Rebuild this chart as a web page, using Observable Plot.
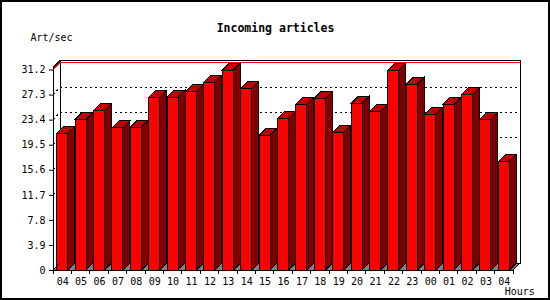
<!DOCTYPE html>
<html><head><meta charset="utf-8">
<script src="https://cdn.jsdelivr.net/npm/d3@7"></script>
<script src="https://cdn.jsdelivr.net/npm/@observablehq/plot@0.6"></script>
<style>html,body{margin:0;padding:0;background:#fff}</style>
</head><body><div id="chart"></div>
<script>
const hours = ["04","05","06","07","08","09","10","11","12","13","14","15","16","17","18","19","20","21","22","23","00","01","02","03","04"];
const articles = [21.3,23.45,24.85,22.1,22.2,26.9,26.9,27.8,29.2,31.08,28.3,20.96,23.6,25.8,26.7,21.4,25.9,24.7,31.08,28.9,24.2,25.8,27.3,23.45,16.85];
const yTicks = [0,3.9,7.8,11.7,15.6,19.5,23.4,27.3,31.2];
const title = "Incoming articles";
const yLabel = "Art/sec";
const xLabel = "Hours";

const data = articles.map((v, i) => ({i, hour: hours[i], value: v}));
const idx = data.map(d => d.i);
const DEPTH = 7;
const yMax = yTicks[yTicks.length - 1];

function background(index, scales) {
  const x = scales.x, y = scales.y;
  const g = d3.create("svg:g").attr("shape-rendering", "crispEdges");
  const [x0, x1] = x.range();
  const y0 = y(0), yTop = y(yMax) - 2;
  g.append("path")
    .attr("d", `M${x0},${y0}L${x0 + DEPTH},${y0 - DEPTH}L${x1 + DEPTH},${y0 - DEPTH}L${x1},${y0}Z`)
    .attr("fill", "#808080");
  g.append("rect")
    .attr("x", x0 + DEPTH).attr("y", yTop - DEPTH)
    .attr("width", x1 - x0).attr("height", y0 - yTop)
    .attr("fill", "none").attr("stroke", "black");
  for (const t of yTicks.slice(1)) {
    const yy = y(t);
    const isMax = t === yMax;
    g.append("path")
      .attr("d", `M${x0},${yy}L${x0 + DEPTH},${yy - DEPTH}L${x1 + DEPTH},${yy - DEPTH}`)
      .attr("fill", "none")
      .attr("stroke", isMax ? "red" : "black")
      .attr("stroke-dasharray", isMax ? null : "2,3");
  }
  return g.node();
}

function foreground(index, scales, values, dims) {
  const x = scales.x, y = scales.y;
  const g = d3.create("svg:g").attr("shape-rendering", "crispEdges");
  const [x0, x1] = x.range();
  const y0 = y(0), yTop = y(yMax) - 2;
  const bw = x.bandwidth();
  for (const d of data) {
    const xl = x(d.i), xr = xl + bw, yt = y(d.value);
    g.append("path")
      .attr("d", `M${xr},${y0}L${xr},${yt}L${xr + DEPTH},${yt - DEPTH}L${xr + DEPTH},${y0 - DEPTH}Z`)
      .attr("fill", "#800000").attr("stroke", "black");
    g.append("path")
      .attr("d", `M${xl},${yt}L${xl + DEPTH},${yt - DEPTH}L${xr + DEPTH},${yt - DEPTH}L${xr},${yt}Z`)
      .attr("fill", "#c00000").attr("stroke", "black");
  }
  g.append("path")
    .attr("d", `M${x0 + DEPTH},${y0 - DEPTH}L${x0},${y0}L${x0},${yTop}L${x0 + DEPTH},${yTop - DEPTH}`)
    .attr("fill", "none").attr("stroke", "black");
  g.append("path")
    .attr("d", `M${x0},${y0}L${x1},${y0}L${x1 + DEPTH},${y0 - DEPTH}`)
    .attr("fill", "none").attr("stroke", "black");
  const step = x.step();
  for (let k = 0; k <= data.length; k++) {
    const xx = x0 + k * step;
    g.append("line").attr("x1", xx).attr("x2", xx).attr("y1", y0).attr("y2", y0 + 4).attr("stroke", "black");
  }
  g.append("rect").attr("x", 1).attr("y", 1)
    .attr("width", dims.width - 2).attr("height", dims.height - 2)
    .attr("fill", "none").attr("stroke", "black").attr("stroke-width", 2);
  return g.node();
}

const chart = Plot.plot({
  width: 550, height: 300,
  marginLeft: 53, marginRight: 37, marginTop: 69.5, marginBottom: 30,
  style: {fontFamily: "DejaVu Sans Mono", fontSize: "10px", background: "white", color: "black"},
  x: {type: "band", domain: idx, round: false, paddingInner: 0.4, paddingOuter: 0.2, tickSize: 0, tickPadding: 7, tickFormat: i => hours[i], label: null},
  y: {domain: [0, yMax], ticks: yTicks, tickSize: 4, tickPadding: 4, tickFormat: d => String(d), label: null},
  marks: [
    background,
    Plot.barY(data, {x: "i", y: "value", fill: "#ff0000", stroke: "black", shapeRendering: "crispEdges"}),
    foreground,
    Plot.text([title], {text: d => d, frameAnchor: "top", dx: -8, dy: -46, fontWeight: "bold", fontSize: 11.5}),
    Plot.text([yLabel], {text: d => d, frameAnchor: "top-left", textAnchor: "start", dx: -23, dy: -36}),
    Plot.text([xLabel], {text: d => d, frameAnchor: "bottom-right", textAnchor: "end", dx: 21.3, dy: 24.8})
  ]
});
document.getElementById("chart").appendChild(chart);
</script>
</body></html>
